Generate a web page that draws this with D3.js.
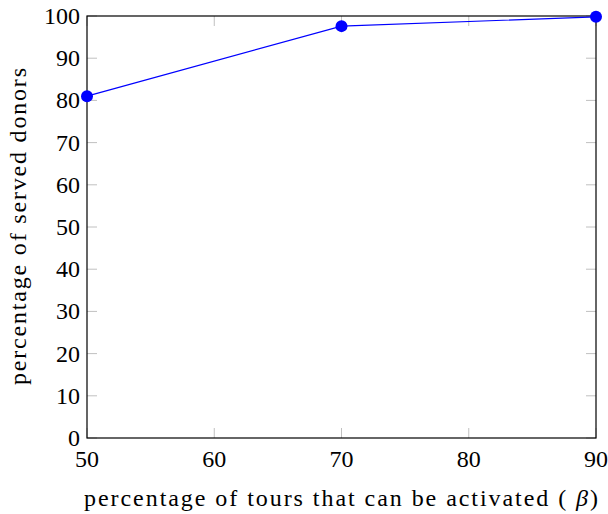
<!DOCTYPE html>
<html><head><meta charset="utf-8">
<script src="https://d3js.org/d3.v7.min.js"></script>
<style>body{margin:0;background:#fff;} svg{display:block;} text{font-family:"Liberation Serif","DejaVu Serif",serif;fill:#000;}</style>
</head><body>
<script>
const xValues = [50, 70, 90];
const yValues = [81.0, 97.6, 99.8];
const xTicks = [50, 60, 70, 80, 90];
const yTicks = [0, 10, 20, 30, 40, 50, 60, 70, 80, 90, 100];
const xLabel = "percentage of tours that can be activated ( ";
const yLabel = "percentage of served donors";

const W = 608, H = 514;
const m = {left: 87, top: 16, right: 12, bottom: 76};
const svg = d3.select("body").append("svg").attr("width", W).attr("height", H);
const x = d3.scaleLinear().domain([50, 90]).range([m.left, W - m.right]);
const y = d3.scaleLinear().domain([0, 100]).range([H - m.bottom, m.top]);

const g = svg.append("g");
const tl = 10;
xTicks.forEach(t => {
  g.append("line").attr("x1", x(t)).attr("x2", x(t)).attr("y1", y(0)).attr("y2", y(0) - tl).attr("stroke", "#c0c0c0");
  g.append("line").attr("x1", x(t)).attr("x2", x(t)).attr("y1", y(100)).attr("y2", y(100) + tl).attr("stroke", "#c0c0c0");
});
yTicks.forEach(t => {
  g.append("line").attr("x1", x(50)).attr("x2", x(50) + tl).attr("y1", y(t)).attr("y2", y(t)).attr("stroke", "#c0c0c0");
  g.append("line").attr("x1", x(90)).attr("x2", x(90) - tl).attr("y1", y(t)).attr("y2", y(t)).attr("stroke", "#c0c0c0");
});
svg.append("rect").attr("x", x(50)).attr("y", y(100)).attr("width", x(90) - x(50)).attr("height", y(0) - y(100))
  .attr("fill", "none").attr("stroke", "#000").attr("stroke-width", 1.2);

xTicks.forEach(t => {
  svg.append("text").attr("x", x(t)).attr("y", y(0) + 29).attr("text-anchor", "middle").attr("font-size", 24).text(t);
});
yTicks.forEach(t => {
  svg.append("text").attr("x", x(50) - 7).attr("y", y(t) + 8).attr("text-anchor", "end").attr("font-size", 24).text(t);
});

const data = xValues.map((v, i) => [v, yValues[i]]);
svg.append("path").datum(data).attr("d", d3.line().x(d => x(d[0])).y(d => y(d[1])))
  .attr("fill", "none").attr("stroke", "#0000ff").attr("stroke-width", 1.2);
svg.selectAll("circle.pt").data(data).enter().append("circle").attr("class", "pt")
  .attr("cx", d => x(d[0])).attr("cy", d => y(d[1])).attr("r", 6).attr("fill", "#0000ff");

const xl = svg.append("text").attr("x", 84).attr("y", 506).attr("font-size", 24)
  .attr("textLength", 514).attr("lengthAdjust", "spacing");
xl.append("tspan").text(xLabel);
xl.append("tspan").attr("font-style", "italic").text("β");
xl.append("tspan").text(")");
svg.append("text").attr("transform", "translate(26,385) rotate(-90)")
  .attr("font-size", 24).attr("textLength", 317).attr("lengthAdjust", "spacing").text(yLabel);
</script>
</body></html>
